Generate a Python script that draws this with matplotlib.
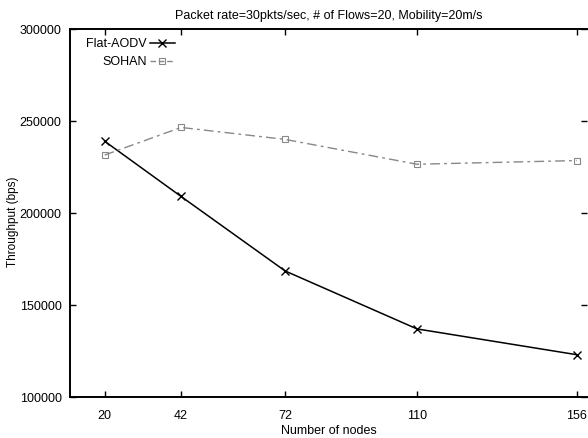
import matplotlib
matplotlib.use("Agg")
import matplotlib.pyplot as plt

# throughput vs. network size
nodes = [20, 42, 72, 110, 156]
flat_aodv = [239000, 209000, 168500, 137000, 123000]
sohan = [231500, 246500, 240000, 226500, 228500]
y_ticks = [100000, 150000, 200000, 250000, 300000]

plt.rcParams["font.family"] = ["Liberation Sans", "DejaVu Sans"]
plt.rcParams["font.size"] = 9

fig = plt.figure(figsize=(5.88, 4.39), dpi=100)
ax = fig.add_axes([70 / 588, 41 / 439, 517 / 588, 368 / 439])

ax.plot(nodes, flat_aodv, color="black", lw=1.1, marker="x",
        markersize=6, markeredgewidth=1.0)
ax.plot(nodes, sohan, color="#888888", lw=1.0, dashes=(7, 3, 2, 3),
        marker="s", markersize=4.5, markerfacecolor="none",
        markeredgecolor="#888888", markeredgewidth=0.8)

ax.set_xlim(10, 159)
ax.set_ylim(100000, 300000)
ax.set_xticks(nodes)
ax.set_xticklabels([str(n) for n in nodes])
ax.set_yticks(y_ticks)
ax.set_yticklabels([str(v) for v in y_ticks])

ax.tick_params(direction="in", length=4, width=1, top=True, right=True,
               labelsize=9, color="black")
ax.tick_params(axis="x", pad=9)
ax.tick_params(axis="y", pad=6)
for side in ["left", "bottom", "top"]:
    ax.spines[side].set_linewidth(1.4)
ax.spines["right"].set_visible(False)

ax.set_title("Packet rate=30pkts/sec, # of Flows=20, Mobility=20m/s",
             fontsize=9, pad=8)
ax.set_xlabel("Number of nodes", fontsize=9, labelpad=2)
ax.set_ylabel("Throughput (bps)", fontsize=8.5)
ax.yaxis.set_label_coords(-0.098, 0.48)

# key in the top-left corner, sample line to the right of the label
ax.text(0.149, 0.962, "Flat-AODV", transform=ax.transAxes, ha="right",
        va="center", fontsize=9)
ax.plot([0.155, 0.203], [0.962, 0.962], transform=ax.transAxes,
        color="black", lw=1.1)
ax.plot([0.178], [0.962], transform=ax.transAxes, color="black",
        marker="x", markersize=6, markeredgewidth=1.0)
ax.text(0.149, 0.913, "SOHAN", transform=ax.transAxes, ha="right",
        va="center", fontsize=9)
ax.plot([0.155, 0.203], [0.913, 0.913], transform=ax.transAxes,
        color="#888888", lw=1.0, dashes=(4, 2))
ax.plot([0.178], [0.913], transform=ax.transAxes, marker="s",
        markersize=4.5, markerfacecolor="none", markeredgecolor="#888888",
        markeredgewidth=0.8)

fig.savefig("out.png", dpi=100)
